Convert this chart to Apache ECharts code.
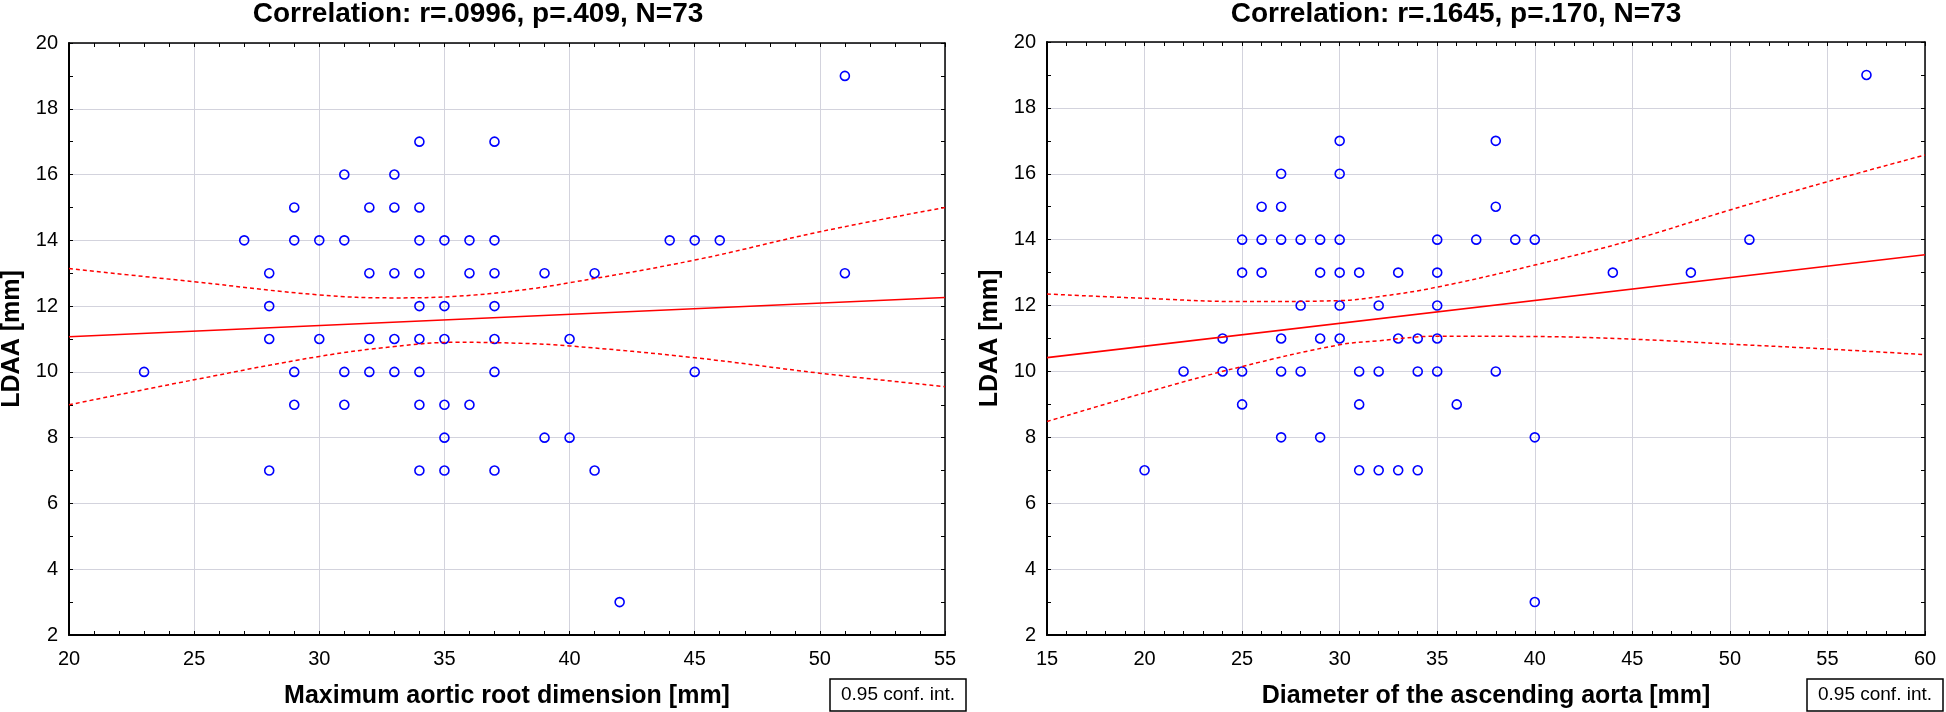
<!DOCTYPE html>
<html>
<head>
<meta charset="utf-8">
<script src="https://cdn.jsdelivr.net/npm/echarts@6/dist/echarts.min.js"></script>
<style>
html,body{margin:0;padding:0;background:#fff;}
#c{width:1946px;height:712px;}
</style>
</head>
<body>
<div id="c"></div>
<script>
// ---------- Left panel: Maximum aortic root dimension vs LDAA ----------
var rootX = [23,27,28,28,28,28,29,29,29,29,30,30,31,31,31,31,32,32,32,32,33,33,33,33,33,
             34,34,34,34,34,34,34,34,34,35,35,35,35,35,35,36,36,36,37,37,37,37,37,37,37,
             39,39,40,40,41,41,42,44,45,45,46,51,51];
var rootY = [10,14,13,12,11,7,15,14,10,9,14,11,16,14,10,9,15,13,11,10,16,15,13,11,10,
             17,15,14,13,12,11,10,9,7,14,12,11,9,8,7,14,13,9,17,14,13,12,11,10,7,
             13,8,11,8,13,7,3,14,14,10,14,19,13];
var rootFitX = [20, 55];
var rootFitY = [11.07, 12.26];
var rootBandX = [20, 25, 30, 33, 35.5, 38, 40, 45, 50, 55];
var rootBandUpper = [13.14, 12.74, 12.34, 12.25, 12.30, 12.48, 12.71, 13.40, 14.26, 15.00];
var rootBandLower = [9.00, 9.76, 10.47, 10.77, 10.90, 10.87, 10.79, 10.43, 9.96, 9.55];

// ---------- Right panel: Diameter of the ascending aorta vs LDAA ----------
var ascX = [20,22,24,24,25,25,25,25,26,26,26,27,27,27,27,27,27,28,28,28,29,29,29,29,
            30,30,30,30,30,30,31,31,31,31,32,32,32,33,33,33,34,34,34,35,35,35,35,35,
            36,37,38,38,38,39,40,40,40,44,48,51,57];
var ascY = [7,10,11,10,14,13,10,9,15,14,13,16,15,14,11,10,8,14,12,10,14,13,11,8,
            17,16,14,13,12,11,13,10,9,7,12,10,7,13,11,7,11,10,7,14,13,12,11,10,
            9,14,17,15,10,14,14,8,3,13,13,14,19];
var ascFitX = [15, 60];
var ascFitY = [10.42, 13.54];
var ascBandX = [15, 20, 25, 30, 32, 35, 40, 45, 50, 55, 60];
var ascBandUpper = [12.35, 12.22, 12.12, 12.15, 12.27, 12.56, 13.23, 13.99, 14.90, 15.76, 16.57];
var ascBandLower = [8.48, 9.35, 10.15, 10.81, 10.93, 11.07, 11.06, 10.98, 10.83, 10.68, 10.51];

var titles = ['Correlation: r=.0996, p=.409, N=73', 'Correlation: r=.1645, p=.170, N=73'];
var xNames = ['Maximum aortic root dimension [mm]', 'Diameter of the ascending aorta [mm]'];
var yName = 'LDAA [mm]';
var legendText = '0.95 conf. int.';

function zip(a, b) { return a.map(function (v, i) { return [v, b[i]]; }); }

var FONT = '"Liberation Sans", Arial, sans-serif';
var GRIDC = '#d3d3dd';

function xAxes(gi, min, max) {
  return [{
    type: 'value', gridIndex: gi, position: 'bottom', min: min, max: max, interval: 5,
    name: xNames[gi], nameLocation: 'middle', nameGap: 49,
    nameTextStyle: { fontFamily: FONT, fontSize: 25, fontWeight: 'bold', color: '#000' },
    axisLine: { show: true, onZero: false, lineStyle: { color: '#000', width: 2 } },
    axisTick: { show: true, inside: true, length: 4, lineStyle: { color: '#000', width: 1 } },
    minorTick: { show: true, splitNumber: 5, length: 4, lineStyle: { color: '#000', width: 1 } },
    axisLabel: { fontFamily: FONT, fontSize: 20, color: '#000', margin: 14 },
    splitLine: { show: true, lineStyle: { color: GRIDC, width: 1 } }
  }, {
    type: 'value', gridIndex: gi, position: 'top', min: min, max: max, interval: 5,
    axisLine: { show: true, onZero: false, lineStyle: { color: '#000', width: 1.5 } },
    axisTick: { show: true, inside: true, length: 4, lineStyle: { color: '#000', width: 1 } },
    minorTick: { show: true, splitNumber: 5, length: 4, lineStyle: { color: '#000', width: 1 } },
    axisLabel: { show: false },
    splitLine: { show: false }
  }];
}
function yAxes(gi) {
  return [{
    type: 'value', gridIndex: gi, position: 'left', min: 2, max: 20, interval: 2,
    name: yName, nameLocation: 'middle', nameGap: 44,
    nameTextStyle: { fontFamily: FONT, fontSize: 25, fontWeight: 'bold', color: '#000' },
    axisLine: { show: true, onZero: false, lineStyle: { color: '#000', width: 2 } },
    axisTick: { show: true, inside: true, length: 4, lineStyle: { color: '#000', width: 1 } },
    minorTick: { show: true, splitNumber: 2, length: 4, lineStyle: { color: '#000', width: 1 } },
    axisLabel: { fontFamily: FONT, fontSize: 20, color: '#000', margin: 11 },
    splitLine: { show: true, lineStyle: { color: GRIDC, width: 1 } }
  }, {
    type: 'value', gridIndex: gi, position: 'right', min: 2, max: 20, interval: 2,
    axisLine: { show: true, onZero: false, lineStyle: { color: '#000', width: 1.5 } },
    axisTick: { show: true, inside: true, length: 4, lineStyle: { color: '#000', width: 1 } },
    minorTick: { show: true, splitNumber: 2, length: 4, lineStyle: { color: '#000', width: 1 } },
    axisLabel: { show: false },
    splitLine: { show: false }
  }];
}

function panelSeries(gi, xs, ys, fx, fy, bx, bu, bl) {
  var xi = gi * 2, yi = gi * 2;
  return [{
    type: 'scatter', xAxisIndex: xi, yAxisIndex: yi, data: zip(xs, ys),
    symbol: 'circle', symbolSize: 9,
    itemStyle: { color: 'rgba(255,255,255,0)', borderColor: '#0000ff', borderWidth: 1.6, opacity: 1 },
    silent: true, z: 3
  }, {
    type: 'line', xAxisIndex: xi, yAxisIndex: yi, data: zip(fx, fy), symbol: 'none',
    lineStyle: { color: '#ff0000', width: 1.6, type: 'solid' }, silent: true, z: 4
  }, {
    type: 'line', xAxisIndex: xi, yAxisIndex: yi, data: zip(bx, bu), symbol: 'none', smooth: 0.4,
    lineStyle: { color: '#ff0000', width: 1.5, type: [4, 3] }, silent: true, z: 4
  }, {
    type: 'line', xAxisIndex: xi, yAxisIndex: yi, data: zip(bx, bl), symbol: 'none', smooth: 0.4,
    lineStyle: { color: '#ff0000', width: 1.5, type: [4, 3] }, silent: true, z: 4
  }];
}

function legendBox(x, y) {
  return {
    type: 'group', x: x, y: y, children: [
      { type: 'rect', shape: { x: 0, y: 0, width: 136, height: 32 },
        style: { fill: '#fff', stroke: '#000', lineWidth: 1.5 } },
      { type: 'text', x: 68, y: 16,
        style: { text: legendText, font: '19px ' + FONT, fill: '#000',
                 align: 'center', verticalAlign: 'middle', textAlign: 'center', textVerticalAlign: 'middle' } }
    ]
  };
}
function titleText(x, t) {
  return { type: 'text', x: x, y: 14,
    style: { text: t, font: 'bold 28px ' + FONT, fill: '#000',
             align: 'center', verticalAlign: 'middle', textAlign: 'center', textVerticalAlign: 'middle' } };
}

var chart = echarts.init(document.getElementById('c'), null, { renderer: 'canvas' });
chart.setOption({
  backgroundColor: '#fff',
  animation: false,
  grid: [
    { left: 69, top: 43, width: 876, height: 592, containLabel: false, outerBoundsMode: 'none' },
    { left: 1047, top: 42, width: 878, height: 593, containLabel: false, outerBoundsMode: 'none' }
  ],
  xAxis: xAxes(0, 20, 55).concat(xAxes(1, 15, 60)),
  yAxis: yAxes(0).concat(yAxes(1)),
  series: panelSeries(0, rootX, rootY, rootFitX, rootFitY, rootBandX, rootBandUpper, rootBandLower)
    .concat(panelSeries(1, ascX, ascY, ascFitX, ascFitY, ascBandX, ascBandUpper, ascBandLower)),
  graphic: [
    titleText(478, titles[0]),
    titleText(1456, titles[1]),
    legendBox(830, 679),
    legendBox(1807, 679)
  ]
});
</script>
</body>
</html>
